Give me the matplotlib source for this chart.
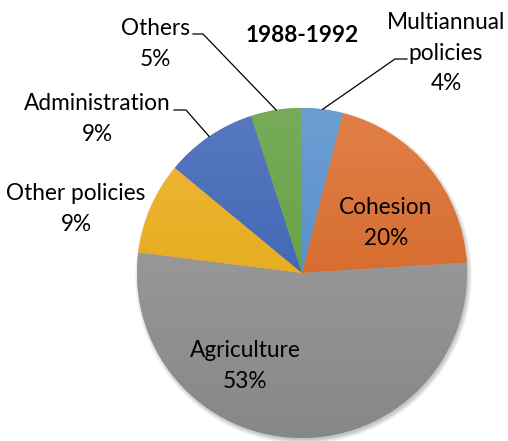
import numpy as np
import matplotlib
matplotlib.use("Agg")
import matplotlib.pyplot as plt
from matplotlib.colors import LinearSegmentedColormap
from matplotlib.patches import Circle

# data
labels = ["Multiannual\npolicies", "Cohesion", "Agriculture", "Other policies", "Administration", "Others"]
values = [4, 20, 53, 9, 9, 5]
title = "1988-1992"

# gradient colours (top, bottom) per slice
tops = ["#6C9ED2", "#E2804A", "#A4A4A4", "#EEB83E", "#5879BF", "#77AB59"]
bottoms = ["#4785C4", "#CB5B17", "#878787", "#E2A100", "#2D59AE", "#5A9937"]

W, H = 508, 441
cx, cy, r = 302, H - 273, 165

def Y(y):
    return H - y

plt.rcParams["font.family"] = ["Lato", "DejaVu Sans"]

fig = plt.figure(figsize=(W / 100, H / 100), dpi=100)
ax = fig.add_axes([0, 0, 1, 1])
ax.axis("off")

# soft shadow
for i in range(10):
    ax.add_patch(Circle((cx + 1.5, cy - 2.5), r + 3.5 - i * 0.5, color="black", alpha=0.025, lw=0, zorder=1))

wedges, _ = ax.pie(values, startangle=90, counterclock=False, center=(cx, cy), radius=r,
                   colors=tops, wedgeprops=dict(linewidth=0), frame=True)

grad = np.linspace(0, 1, 256).reshape(-1, 1)
for w, t, b in zip(wedges, tops, bottoms):
    w.set_zorder(2)
    cm = LinearSegmentedColormap.from_list("g", [b, t])
    im = ax.imshow(grad, extent=[cx - r, cx + r, cy - r, cy + r], origin="lower",
                   cmap=cm, aspect="auto", zorder=3, interpolation="bilinear")
    im.set_clip_path(w)

ax.set_xlim(0, W)
ax.set_ylim(0, H)
ax.set_aspect("equal")
ax.axis("off")

fs = 16.3
ls = 1.55
pct = ["%d%%" % v for v in values]

def edge(w):
    a = np.radians((w.theta1 + w.theta2) / 2)
    return cx + r * np.cos(a), cy + r * np.sin(a)

def lead(w, x0, x1, y):
    ex, ey = edge(w)
    ax.plot([x0, x1, ex], [Y(y), Y(y), ey], color="black", lw=0.9, zorder=5)

def label(i, x, y):
    ax.text(x, Y(y), labels[i] + "\n" + pct[i], ha="center", va="center", fontsize=fs,
            linespacing=ls, zorder=6)

label(0, 446, 53)
lead(wedges[0], 407, 395, 59)
label(1, 386, 223)
label(2, 245, 366)
label(3, 76, 209)
label(4, 97, 119)
lead(wedges[4], 174, 186, 110)
label(5, 155, 44)
lead(wedges[5], 193, 203, 34)

ax.text(302, Y(35), title, ha="center", va="center", fontsize=fs, fontweight="bold", zorder=6)

fig.savefig("out.png", dpi=100)
